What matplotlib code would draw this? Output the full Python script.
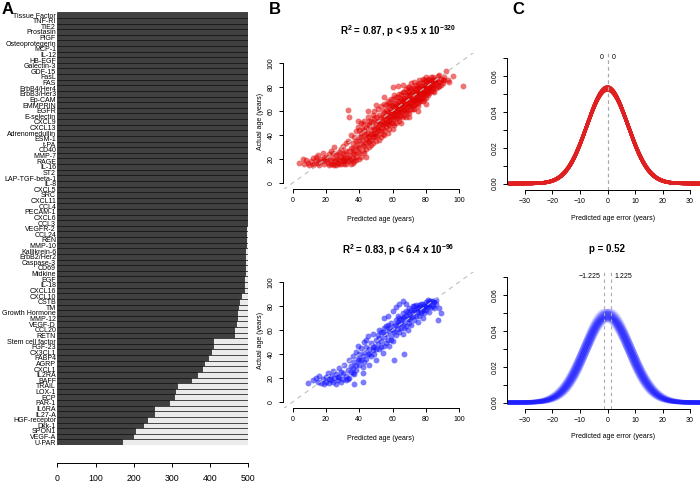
import matplotlib
matplotlib.use("Agg")
import matplotlib.pyplot as plt
import numpy as np

plt.rcParams['font.family'] = ['Liberation Sans', 'DejaVu Sans']
plt.rcParams['mathtext.fontset'] = 'custom'
plt.rcParams['mathtext.rm'] = 'Liberation Sans'
plt.rcParams['mathtext.bf'] = 'Liberation Sans:bold'

# ---- panel A data: proteins (top to bottom) and counts out of 500
proteins = ['Tissue Factor', 'TNF-RI', 'TIE2', 'Prostasin', 'PlGF', 'Osteoprotegerin',
            'MCP-1', 'IL-12', 'HB-EGF', 'Galectin-3', 'GDF-15', 'FasL', 'FAS',
            'ErbB4/Her4', 'ErbB3/Her3', 'Ep-CAM', 'EMMPRIN', 'EGFR', 'E-selectin',
            'CXCL9', 'CXCL13', 'Adrenomedullin', 'ESM-1', 't-PA', 'CD40', 'MMP-7',
            'RAGE', 'IL-16', 'ST2', 'LAP-TGF-beta-1', 'IL-8', 'CXCL5', 'SRC', 'CXCL11',
            'CCL4', 'PECAM-1', 'CXCL6', 'CCL3', 'VEGFR-2', 'CCL24', 'REN', 'MMP-10',
            'Kallikrein-6', 'ErbB2/Her2', 'Caspase-3', 'CD69', 'Midkine', 'EGF', 'IL-18',
            'CXCL16', 'CXCL10', 'CSTB', 'TM', 'Growth Hormone', 'MMP-12', 'VEGF-D',
            'CCL20', 'RETN', 'Stem cell factor', 'FGF-23', 'CX3CL1', 'FABP4', 'AGRP',
            'CXCL1', 'IL2RA', 'BAFF', 'TRAIL', 'LOX-1', 'ECP', 'PAR-1', 'IL6RA', 'IL27-A',
            'HGF-receptor', 'Dkk-1', 'SPON1', 'VEGF-A', 'U-PAR']
counts = [500, 500, 500, 500, 500, 500, 500, 500, 500, 500, 500, 500, 500, 500, 500,
          500, 500, 500, 500, 500, 500, 500, 500, 500, 500, 500, 500, 500, 500, 500,
          499, 499, 499, 499, 499, 498, 497, 496, 495, 494, 494, 493, 492, 492, 492,
          491, 491, 490, 490, 489, 481, 476, 473, 471, 470, 468, 462, 462, 407, 407,
          403, 394, 384, 380, 366, 350, 314, 307, 305, 291, 254, 252, 234, 225, 202,
          199, 170]
total = 500

# ---- panel B data: (predicted age, actual age)
train_pts = [
    (4, 17), (7, 16), (8, 19), (10, 15), (11, 18), (12, 21), (13, 16), (14, 19), (15, 17), (15, 23),
    (16, 15), (17, 20), (18, 18), (18, 25), (19, 16), (20, 22), (20, 19), (21, 17), (22, 15), (22, 24),
    (23, 19), (23, 27), (24, 16), (24, 21), (25, 18), (25, 30), (26, 15), (26, 23), (27, 20), (27, 17),
    (28, 26), (28, 19), (29, 16), (29, 22), (30, 18), (30, 31), (30, 24), (31, 20), (31, 16), (32, 27),
    (32, 21), (33, 18), (33, 35), (33, 61), (34, 23), (34, 55), (34, 19), (35, 29), (35, 16), (35, 40),
    (36, 21), (36, 33), (36, 25), (37, 18), (37, 38), (37, 27), (38, 22), (38, 43), (38, 31), (39, 35),
    (39, 26), (39, 47), (40, 29), (40, 38), (40, 20), (41, 42), (41, 33), (41, 50), (42, 36), (42, 27),
    (42, 45), (43, 40), (43, 31), (43, 52), (44, 37), (44, 46), (44, 28), (45, 42), (45, 34), (45, 55),
    (46, 48), (46, 39), (46, 30), (47, 44), (47, 52), (47, 36), (48, 41), (48, 57), (48, 33), (48, 47),
    (49, 45), (49, 38), (49, 60), (50, 50), (50, 42), (50, 35), (50, 55), (51, 47), (51, 62), (51, 40),
    (52, 52), (52, 44), (52, 57), (53, 49), (53, 38), (53, 64), (54, 55), (54, 46), (54, 51), (54, 41),
    (55, 58), (55, 50), (55, 66), (55, 44), (56, 53), (56, 61), (56, 47), (57, 56), (57, 49), (57, 68),
    (57, 42), (58, 59), (58, 52), (58, 64), (58, 45), (59, 56), (59, 70), (59, 50), (59, 62), (60, 58),
    (60, 65), (60, 53), (60, 80), (61, 60), (61, 48), (61, 67), (61, 55), (62, 63), (62, 57), (62, 72),
    (62, 50), (63, 61), (63, 68), (63, 54), (63, 81), (64, 65), (64, 59), (64, 74), (64, 52), (65, 62),
    (65, 70), (65, 56), (65, 66), (66, 68), (66, 60), (66, 76), (66, 82), (67, 64), (67, 71), (67, 57),
    (67, 67), (68, 69), (68, 62), (68, 78), (68, 55), (69, 66), (69, 73), (69, 60), (69, 80), (70, 70),
    (70, 64), (70, 76), (70, 58), (71, 67), (71, 74), (71, 83), (71, 62), (72, 72), (72, 65), (72, 79),
    (72, 69), (73, 75), (73, 68), (73, 62), (73, 84), (74, 71), (74, 78), (74, 66), (74, 74), (75, 76),
    (75, 70), (75, 82), (75, 64), (76, 73), (76, 79), (76, 68), (76, 86), (77, 75), (77, 71), (77, 81),
    (78, 77), (78, 72), (78, 84), (78, 68), (79, 79), (79, 74), (79, 86), (80, 76), (80, 82), (80, 71),
    (80, 88), (81, 78), (81, 84), (81, 73), (82, 80), (82, 86), (82, 75), (83, 82), (83, 77), (83, 88),
    (84, 79), (84, 85), (85, 81), (85, 87), (85, 76), (86, 83), (87, 80), (87, 89), (88, 84), (88, 90),
    (89, 82), (90, 86), (91, 86), (92, 93), (94, 84), (102, 81),
    (6, 20), (9, 17), (12, 15), (14, 22), (16, 18), (19, 21), (21, 20), (23, 16), (24, 25), (25, 15),
    (26, 19), (27, 24), (28, 16), (29, 28), (30, 21), (31, 25), (31, 18), (32, 16), (32, 33), (33, 22),
    (34, 27), (35, 20), (36, 17), (36, 29), (37, 24), (38, 19), (38, 35), (39, 30), (40, 25), (40, 44),
    (41, 22), (41, 38), (42, 32), (42, 49), (43, 25), (43, 44), (44, 33), (44, 41), (45, 38), (45, 48),
    (46, 35), (46, 52), (47, 41), (47, 32), (48, 38), (48, 51), (49, 42), (49, 54), (50, 46), (50, 39),
    (51, 52), (51, 44), (52, 48), (52, 36), (53, 55), (53, 43), (54, 60), (54, 48), (55, 53), (55, 40),
    (56, 57), (56, 50), (56, 65), (57, 52), (57, 60), (58, 55), (58, 67), (58, 48), (59, 58), (59, 53),
    (59, 65), (60, 61), (60, 50), (60, 70), (61, 63), (61, 57), (61, 73), (62, 66), (62, 54), (62, 60),
    (63, 64), (63, 58), (63, 72), (64, 62), (64, 68), (64, 56), (65, 65), (65, 74), (65, 59), (66, 63),
    (66, 71), (66, 55), (67, 69), (67, 61), (67, 76), (68, 66), (68, 73), (68, 59), (69, 70), (69, 63),
    (69, 77), (70, 67), (70, 73), (70, 80), (71, 70), (71, 65), (71, 78), (72, 68), (72, 76), (72, 62),
    (73, 71), (73, 79), (73, 65), (74, 75), (74, 69), (74, 82), (75, 73), (75, 79), (75, 67), (76, 76),
    (76, 70), (76, 83), (77, 78), (77, 73), (77, 68), (78, 80), (78, 75), (78, 87), (79, 77), (79, 82),
    (79, 70), (80, 79), (80, 85), (80, 74), (81, 81), (81, 76), (81, 87), (82, 78), (82, 83), (83, 80),
    (83, 85), (84, 82), (84, 77), (84, 88), (85, 84), (86, 79), (86, 86), (87, 84), (88, 81), (89, 87),
    (90, 83), (91, 88), (93, 86), (96, 89), (45, 60), (50, 65), (55, 72), (60, 45), (65, 50), (70, 55),
    (75, 60), (80, 66), (44, 22), (39, 52)]
test_pts = [
    (9, 16), (12, 18), (14, 20), (15, 17), (16, 22), (17, 16), (18, 19), (19, 15), (20, 21), (20, 17),
    (21, 24), (22, 16), (22, 19), (23, 22), (24, 17), (24, 26), (25, 20), (26, 15), (26, 23), (27, 18),
    (28, 21), (28, 28), (29, 17), (30, 24), (30, 19), (31, 31), (32, 22), (32, 18), (33, 27), (34, 35),
    (34, 20), (35, 25), (37, 15), (37, 23), (42, 17), (42, 24), (35, 30), (36, 38), (36, 28), (37, 33),
    (38, 42), (38, 27), (39, 36), (39, 47), (40, 31), (40, 40), (41, 45), (41, 35), (42, 38), (42, 29),
    (43, 50), (43, 42), (44, 36), (44, 46), (45, 40), (45, 55), (46, 31), (46, 44), (47, 49), (47, 38),
    (48, 43), (48, 57), (49, 46), (49, 40), (50, 52), (50, 35), (51, 48), (51, 56), (52, 44), (52, 60),
    (53, 51), (53, 46), (54, 58), (54, 41), (55, 54), (55, 62), (56, 49), (56, 57), (57, 64), (57, 52),
    (58, 47), (58, 59), (59, 55), (59, 66), (60, 60), (60, 51), (61, 35), (61, 63), (62, 56), (62, 68),
    (63, 61), (63, 72), (64, 58), (64, 65), (65, 69), (65, 62), (66, 57), (66, 74), (67, 40), (67, 66),
    (67, 71), (68, 63), (68, 76), (69, 69), (69, 60), (70, 73), (70, 66), (70, 78), (71, 71), (71, 64),
    (72, 75), (72, 80), (73, 68), (73, 77), (74, 72), (74, 81), (75, 75), (75, 67), (76, 79), (76, 72),
    (77, 82), (77, 76), (78, 70), (78, 78), (79, 80), (79, 74), (80, 83), (80, 77), (81, 79), (81, 85),
    (82, 81), (82, 75), (83, 84), (84, 80), (85, 83), (86, 82), (87, 68), (88, 78), (89, 74),
    (60, 76), (62, 79), (64, 82), (66, 84), (68, 82), (55, 70), (57, 72),
    (23, 18), (27, 21), (29, 25), (33, 19), (36, 24), (38, 31), (40, 35), (43, 33), (44, 52), (46, 40),
    (48, 47), (50, 44), (52, 53), (53, 58), (55, 47), (56, 63), (58, 62), (59, 52), (61, 58), (62, 64),
    (63, 67), (64, 70), (65, 66), (66, 70), (67, 62), (68, 72), (69, 75), (70, 69), (71, 77), (72, 72),
    (73, 80), (74, 76), (75, 78), (76, 81), (77, 74), (78, 82), (79, 77), (80, 80), (81, 82), (82, 84),
    (83, 79), (84, 84), (85, 78), (86, 85)]
train_title = r'R$^\mathbf{2}$ = 0.87, p < 9.5 x 10$^\mathbf{-320}$'
test_title = r'R$^\mathbf{2}$ = 0.83, p < 6.4 x 10$^\mathbf{-96}$'

# ---- panel C data: error distributions per iteration (mean, sd)
train_err_means = [0.0, 0.0, 0.0, 0.0, 0.0, 0.0, 0.0]
train_err_sds = [7.40, 7.44, 7.48, 7.52, 7.56, 7.60, 7.64]
test_err_means = [-1.225, -0.6, 0.0, 0.6, 1.225]
test_err_sds = [7.8, 8.0, 8.2, 8.4, 8.6]
test_p = 0.52


def box(l, t, r, b):
    return [l / 700, 1 - b / 483, (r - l) / 700, (b - t) / 483]


fig = plt.figure(figsize=(7, 4.83), dpi=100)

# ---------------- A
axA = fig.add_axes(box(57.4, 12.3, 248.3, 445))
ypos = np.arange(len(proteins))
axA.barh(ypos, counts, height=1.0, color='#404040', edgecolor='black', linewidth=0.4)
axA.barh(ypos, [total - c for c in counts], left=counts, height=1.0,
         color='#EBEBEB', edgecolor='black', linewidth=0.4)
axA.set_ylim(len(proteins) - 0.5, -0.5)
axA.set_xlim(0, 500)
axA.set_yticks(ypos)
axA.set_yticklabels(proteins, fontsize=5)
axA.tick_params(axis='y', length=0, pad=1)
for s in ['top', 'right', 'left']:
    axA.spines[s].set_visible(False)
axA.spines['bottom'].set_position(('outward', 13))
axA.spines['bottom'].set_linewidth(0.7)
axA.set_xticks([0, 100, 200, 300, 400, 500])
axA.tick_params(axis='x', labelsize=6.3, length=3, width=0.7, pad=5)


def scatter_panel(rect, pts, color, title, ty):
    ax = fig.add_axes(rect)
    xs = [p[0] for p in pts]
    ys = [p[1] for p in pts]
    ax.scatter(xs, ys, s=18, color=color, alpha=0.55, linewidths=0, zorder=2)
    ax.plot([-10, 120], [-10, 120], color='#BEBEBE', lw=0.8, dashes=(4, 4), zorder=3)
    ax.set_xlim(-5.6, 109.5)
    ax.set_ylim(-5, 108.3)
    for s in ['top', 'right']:
        ax.spines[s].set_visible(False)
    for s in ['left', 'bottom']:
        ax.spines[s].set_bounds(0, 100)
        ax.spines[s].set_linewidth(0.7)
    ax.set_xticks(range(0, 101, 20))
    ax.set_yticks(range(0, 101, 20))
    ax.tick_params(labelsize=5, length=3, width=0.7, pad=3)
    for lab in ax.get_yticklabels():
        lab.set_rotation(90)
        lab.set_va('center')
    fig.text(398 / 700, 1 - ty / 483, title, fontsize=7, fontweight='bold',
             ha='center', va='center')
    fig.text(381 / 700, 1 - (ty + 188) / 483, 'Predicted age (years)', fontsize=5,
             ha='center', va='center')
    fig.text(260 / 700, 1 - (ty + 90) / 483, 'Actual age (years)', fontsize=5,
             ha='center', va='center', rotation=90)
    return ax


scatter_panel(box(283.3, 53, 475, 189), train_pts, '#E00000', train_title, 31.5)
scatter_panel(box(283.3, 272, 475, 408), test_pts, '#1010FF', test_title, 250.5)


def error_panel(rect, means, sds, color, lw, alpha, labels):
    ax = fig.add_axes(rect)
    grid = np.linspace(-36, 36, 400)
    for m in means:
        for sd in sds:
            dens = np.exp(-0.5 * ((grid - m) / sd) ** 2) / (sd * np.sqrt(2 * np.pi))
            ax.plot(grid, dens, color=color, lw=lw, alpha=alpha, solid_capstyle='round')
    ax.set_xlim(-36.65, 36.65)
    ax.set_ylim(-0.0036, 0.0745)
    lo, hi = min(means), max(means)
    for v in [lo, hi]:
        ax.plot([v, v], [-0.0036, 0.074], color='#AAAAAA', lw=0.8, dashes=(3, 3))
    ax.text(lo - 1.4, 0.0705, labels[0], fontsize=5, ha='right', va='center')
    ax.text(hi + 1.4, 0.0705, labels[1], fontsize=5, ha='left', va='center')
    for s in ['top', 'right']:
        ax.spines[s].set_visible(False)
    ax.spines['left'].set_bounds(0, 0.07)
    ax.spines['bottom'].set_bounds(-30, 30)
    for s in ['left', 'bottom']:
        ax.spines[s].set_linewidth(0.7)
    ax.set_xticks(range(-30, 31, 10))
    ax.set_xticklabels(['\u221230', '\u221220', '\u221210', '0', '10', '20', '30'])
    ax.set_yticks([0, 0.01, 0.02, 0.03, 0.04, 0.05, 0.06, 0.07])
    ax.set_yticklabels(['0.00', '', '0.02', '', '0.04', '', '0.06', ''])
    ax.tick_params(labelsize=5, length=3, width=0.7, pad=3)
    for lab in ax.get_yticklabels():
        lab.set_rotation(90)
        lab.set_va('center')
    return ax


error_panel(box(506.7, 50, 708.3, 190), train_err_means, train_err_sds, '#E02020', 2.4, 0.35,
            ['0', '0'])
fig.text(613 / 700, 1 - 218 / 483, 'Predicted age error (years)', fontsize=5, ha='center', va='center')

error_panel(box(506.7, 269, 708.3, 409), test_err_means, test_err_sds, '#2020FF', 3.0, 0.15,
            ['\u22121.225', '1.225'])
fig.text(613 / 700, 1 - 437 / 483, 'Predicted age error (years)', fontsize=5, ha='center', va='center')
fig.text(607 / 700, 1 - 249 / 483, 'p = ' + str(test_p), fontsize=7, fontweight='bold',
         ha='center', va='center')

# panel letters
fig.text(8 / 700, 1 - 9 / 483, 'A', fontsize=12, fontweight='bold', ha='center', va='center')
fig.text(275 / 700, 1 - 9 / 483, 'B', fontsize=12, fontweight='bold', ha='center', va='center')
fig.text(518 / 700, 1 - 9 / 483, 'C', fontsize=12, fontweight='bold', ha='center', va='center')

fig.savefig('out.png', dpi=100)
